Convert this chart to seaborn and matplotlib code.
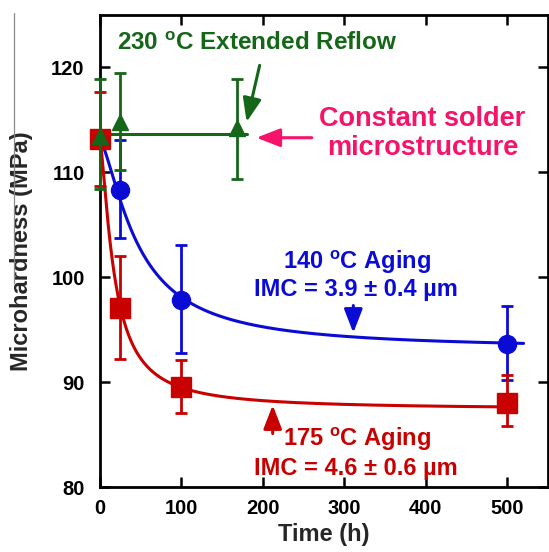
import numpy as np
import matplotlib
matplotlib.use("Agg")
import matplotlib.pyplot as plt
import seaborn as sns
from matplotlib.lines import Line2D

# ---------------- data ----------------
time_aging = [0, 24, 100, 500]
hard_175 = [113.2, 97.1, 89.5, 88.0]
err_175_lo = [4.5, 4.9, 2.4, 2.2]
err_175_hi = [4.5, 4.9, 2.6, 2.7]
hard_140 = [113.2, 108.3, 97.8, 93.6]
err_140_lo = [0.0, 4.6, 5.0, 3.4]
err_140_hi = [0.0, 4.8, 5.3, 3.7]

time_reflow = [0, 24, 168]
hard_230 = [113.5, 114.8, 114.2]
err_230_lo = [5.1, 4.6, 4.8]
err_230_hi = [5.4, 4.7, 4.7]
reflow_level = 113.7
reflow_span = [0, 180]

# fitted decay curves: y = c + A / (1 + (t/tau)^n)
fit_140 = dict(c=93.1, A=19.9, tau=47.0, n=1.45, tmax=520)
fit_175 = dict(c=87.4, A=25.6, tau=17.7, n=1.4, tmax=500)

x_ticks = [0, 100, 200, 300, 400, 500]
y_ticks = [80, 90, 100, 110, 120]

# ---------------- style ----------------
sns.set_theme(style="ticks")
plt.rcParams["font.family"] = ["Liberation Sans", "DejaVu Sans"]
plt.rcParams["font.weight"] = "bold"
plt.rcParams["mathtext.fontset"] = "custom"
plt.rcParams["mathtext.rm"] = "Liberation Sans:bold"
plt.rcParams["mathtext.bf"] = "Liberation Sans:bold"
plt.rcParams["mathtext.it"] = "Liberation Sans:bold"

BLUE = "#0b0bd6"
RED = "#c80000"
GREEN = "#16661a"
PINK = "#f5146a"

fig = plt.figure(figsize=(5.49, 5.52), dpi=100)
ax = fig.add_axes([100 / 549, 1 - 487 / 552, 448 / 549, 472 / 552])


def curve(p):
    t = np.linspace(0, p["tmax"], 400)
    return t, p["c"] + p["A"] / (1 + (t / p["tau"]) ** p["n"])


t1, y1 = curve(fit_140)
t2, y2 = curve(fit_175)
sns.lineplot(x=t1, y=y1, ax=ax, color=BLUE, lw=2.2, zorder=3)
sns.lineplot(x=t2, y=y2, ax=ax, color=RED, lw=2.2, zorder=3)
sns.lineplot(x=reflow_span, y=[reflow_level, reflow_level], ax=ax, color=GREEN, lw=2.2, zorder=3)

ax.errorbar(time_aging, hard_140, yerr=[err_140_lo, err_140_hi], fmt="o", color=BLUE,
            ms=13, elinewidth=2, capsize=4, capthick=2, zorder=4, clip_on=False)
ax.errorbar(time_aging, hard_175, yerr=[err_175_lo, err_175_hi], fmt="s", color=RED,
            ms=14, elinewidth=2, capsize=4, capthick=2, zorder=5, clip_on=False)
ax.errorbar(time_reflow, hard_230, yerr=[err_230_lo, err_230_hi], fmt="^", color=GREEN,
            ms=11, elinewidth=2, capsize=4, capthick=2, zorder=6, clip_on=False)

ax.set_xlim(0, 550)
ax.set_ylim(80, 125)
ax.set_xticks(x_ticks)
ax.set_yticks(y_ticks)
ax.tick_params(direction="in", length=7, width=1.8, labelsize=14.5, top=True, right=True,
               colors="black")
ax.tick_params(axis="y", pad=11)
ax.tick_params(axis="x", pad=9)
for lab in ax.get_xticklabels() + ax.get_yticklabels():
    lab.set_fontweight("bold")
for s in ax.spines.values():
    s.set_linewidth(2)
    s.set_color("black")

ax.set_xlabel("Time (h)", fontsize=17, fontweight="bold", labelpad=3)
ax.set_ylabel("Microhardness (MPa)", fontsize=17, fontweight="bold", labelpad=13)

# ---------------- annotations ----------------
deg = r"$^{\mathbf{o}}$C"
ax.text(193, 122.3, "230 " + deg + " Extended Reflow", color=GREEN, fontsize=17.5,
        fontweight="bold", ha="center", va="center")
ax.text(396, 113.7, "Constant solder\nmicrostructure", color=PINK, fontsize=19.5,
        fontweight="bold", ha="center", va="center", linespacing=1.15)
ax.text(315, 101.4, "140 " + deg + " Aging", color=BLUE, fontsize=17,
        fontweight="bold", ha="center", va="center")
ax.text(314, 98.8, "IMC = 3.9 ± 0.4 µm", color=BLUE, fontsize=17,
        fontweight="bold", ha="center", va="center")
ax.text(315, 84.5, "175 " + deg + " Aging", color=RED, fontsize=17,
        fontweight="bold", ha="center", va="center")
ax.text(314, 81.8, "IMC = 4.6 ± 0.6 µm", color=RED, fontsize=17,
        fontweight="bold", ha="center", va="center")

def arrow(xy_tip, xy_tail, color):
    ax.annotate("", xy=xy_tip, xytext=xy_tail,
                arrowprops=dict(arrowstyle="-|>,head_length=0.9,head_width=0.35",
                                color=color, lw=2.2, mutation_scale=16,
                                shrinkA=0, shrinkB=0), zorder=7)

arrow((180, 114.8), (196, 120.2), GREEN)
arrow((192, 113.3), (260, 113.3), PINK)
arrow((311, 94.7), (311, 97.3), BLUE)
arrow((212, 87.8), (212, 85.1), RED)

# thin grey rule at the left edge (from the source page)
fig.add_artist(Line2D([14 / 549, 14 / 549], [1 - 13 / 552, 1 - 283 / 552],
                      color="#8a8a8a", lw=0.9))

fig.savefig("out.png", dpi=100)
